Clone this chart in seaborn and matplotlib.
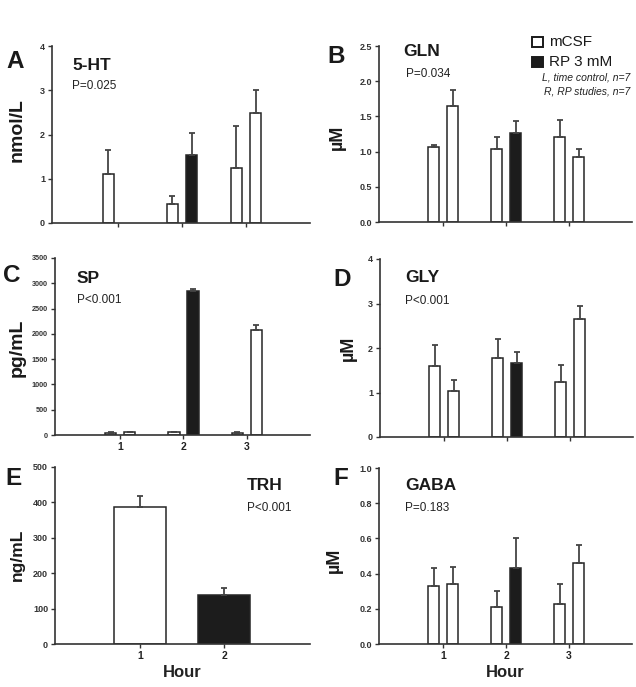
import numpy as np
import pandas as pd
import matplotlib
matplotlib.use("Agg")
import matplotlib.pyplot as plt
import seaborn as sns
from matplotlib.patches import Rectangle

# ---------------- data ----------------
hours = [1, 2, 3]
sides = ["L", "R"]
cond_left = ["mCSF", "mCSF", "mCSF"]
cond_right = ["mCSF", "RP", "mCSF"]

a_left = [1.10, 0.44, 1.24]
a_left_err = [0.56, 0.16, 0.95]
a_right = [np.nan, 1.54, 2.49]
a_right_err = [np.nan, 0.49, 0.51]

b_left = [1.06, 1.03, 1.21]
b_left_err = [0.04, 0.18, 0.24]
b_right = [1.65, 1.27, 0.93]
b_right_err = [0.22, 0.17, 0.11]

c_left = [45, 55, 45]
c_left_err = [12, 12, 12]
c_right = [50, 2840, 2080]
c_right_err = [12, 50, 95]

d_left = [1.60, 1.78, 1.23]
d_left_err = [0.47, 0.42, 0.38]
d_right = [1.04, 1.66, 2.65]
d_right_err = [0.24, 0.25, 0.30]

e_hours = [1, 2]
e_values = [386, 139]
e_err = [31, 20]
e_cond = ["mCSF", "RP"]

f_left = [0.33, 0.21, 0.23]
f_left_err = [0.10, 0.09, 0.11]
f_right = [0.34, 0.43, 0.46]
f_right_err = [0.10, 0.17, 0.105]

colors = {"mCSF": "white", "RP": "#1c1c1c"}
W, H = 636, 687

sns.set_theme(style="ticks")
plt.rcParams["font.family"] = ["Liberation Sans", "DejaVu Sans"]

fig = plt.figure(figsize=(W / 100, H / 100), dpi=100)


def add_ax(x0, y0, x1, y1):
    return fig.add_axes([x0 / W, 1 - y1 / H, (x1 - x0) / W, (y1 - y0) / H])


def style_ax(ax, ylim, yticks, fmt, ytick_fs=6.5, xlabels=None, xlim=None):
    ax.set_ylim(*ylim)
    ax.set_yticks(yticks)
    ax.set_yticklabels([fmt.format(t) for t in yticks], fontsize=ytick_fs,
                       fontweight="bold", color="#333333")
    if xlim is not None:
        ax.set_xlim(*xlim)
    if xlabels is None:
        ax.tick_params(axis="x", labelbottom=False)
    else:
        ax.set_xticklabels(xlabels, fontsize=7.5, fontweight="bold", color="#222222")
    ax.set_xlabel("")
    ax.set_ylabel("")
    sns.despine(ax=ax)
    for s in ["left", "bottom"]:
        ax.spines[s].set_color("#333333")
        ax.spines[s].set_linewidth(1.2)
    ax.tick_params(axis="both", direction="out", length=3, width=1, color="#333333", pad=2)
    ax.set_facecolor("white")


def paired_panel(ax, left, left_err, right, right_err):
    df = pd.DataFrame({
        "hour": hours * 2,
        "side": ["L"] * 3 + ["R"] * 3,
        "value": list(left) + list(right),
        "err": list(left_err) + list(right_err),
        "cond": cond_left + cond_right,
    })
    plot_df = df.assign(value=df["value"].fillna(0))
    sns.barplot(data=plot_df, x="hour", y="value", hue="side", order=hours,
                hue_order=sides, palette={"L": "white", "R": "white"},
                width=0.6, gap=0.4, errorbar=None, edgecolor="#262626",
                linewidth=1.1, legend=False, ax=ax)
    for bar in ax.patches:
        cx = bar.get_x() + bar.get_width() / 2
        idx = int(round(cx))
        side = "L" if cx < idx else "R"
        row = df[(df.hour == hours[idx]) & (df.side == side)].iloc[0]
        if np.isnan(row.value):
            bar.set_visible(False)
            continue
        bar.set_facecolor(colors[row.cond])
        ax.errorbar(cx, row.value, yerr=[[0], [row.err]], fmt="none",
                    ecolor="#444444", elinewidth=1.3, capsize=2.3, capthick=1.3,
                    zorder=1)


def ftext(x, y, s, **kw):
    fig.text(x / W, 1 - y / H, s, **kw)


# A
axA = add_ax(52, 46, 310, 223)
paired_panel(axA, a_left, a_left_err, a_right, a_right_err)
style_ax(axA, (0, 4), [0, 1, 2, 3, 4], "{:d}", xlim=(-1.03, 3.0))

# B
axB = add_ax(379, 46, 632, 222)
paired_panel(axB, b_left, b_left_err, b_right, b_right_err)
style_ax(axB, (0, 2.5), [0, 0.5, 1.0, 1.5, 2.0, 2.5], "{:.1f}", xlim=(-1.02, 3.0))

# C
axC = add_ax(55, 258, 310, 435)
paired_panel(axC, c_left, c_left_err, c_right, c_right_err)
style_ax(axC, (0, 3500), list(range(0, 3501, 500)), "{:d}", ytick_fs=5.2,
         xlabels=[str(h) for h in hours], xlim=(-1.03, 3.0))

# D
axD = add_ax(380, 259, 633, 437)
paired_panel(axD, d_left, d_left_err, d_right, d_right_err)
style_ax(axD, (0, 4), [0, 1, 2, 3, 4], "{:d}", xlim=(-1.02, 3.0))

# E
axE = add_ax(55, 467, 310, 644)
df_e = pd.DataFrame({"hour": e_hours, "value": e_values, "err": e_err, "cond": e_cond})
sns.barplot(data=df_e, x="hour", y="value", hue="cond", dodge=False,
            palette=colors, width=0.61, errorbar=None, edgecolor="#262626",
            linewidth=1.1, legend=False, ax=axE)
for bar in axE.patches:
    if bar.get_height() == 0:
        continue
    cx = bar.get_x() + bar.get_width() / 2
    idx = int(round(cx))
    row = df_e.iloc[idx]
    axE.errorbar(cx, row.value, yerr=[[0], [row.err]], fmt="none",
                 ecolor="#444444", elinewidth=1.3, capsize=2.3, capthick=1.3, zorder=1)
style_ax(axE, (0, 500), [0, 100, 200, 300, 400, 500], "{:d}",
         xlabels=[str(h) for h in e_hours], xlim=(-1.01, 2.02))
axE.set_xlabel("Hour", fontsize=12, fontweight="bold", color="#222222", labelpad=3)

# F
axF = add_ax(379, 468, 632, 644)
paired_panel(axF, f_left, f_left_err, f_right, f_right_err)
style_ax(axF, (0, 1.0), [0, 0.2, 0.4, 0.6, 0.8, 1.0], "{:.1f}",
         xlabels=[str(h) for h in hours], xlim=(-1.02, 3.0))
axF.set_xlabel("Hour", fontsize=12, fontweight="bold", color="#222222", labelpad=3)

# panel letters
for (x, y, s) in [(6, 67.5, "A"), (327, 63, "B"), (3, 282, "C"),
                  (333, 286, "D"), (5, 485, "E"), (333, 485, "F")]:
    ftext(x, y, s, fontsize=17.5, fontweight="bold", color="#1a1a1a", va="baseline")

# titles and P values
for (x, y, s) in [(72, 65, "5-HT"), (403, 52, "GLN"), (77, 279, "SP"),
                  (405, 278, "GLY"), (247, 485, "TRH"), (405, 485, "GABA")]:
    ftext(x, y, s, fontsize=12.5, fontweight="bold", color="#1a1a1a", va="center")
for (x, y, s) in [(72, 86, "P=0.025"), (406, 74, "P=0.034"), (77, 300, "P<0.001"),
                  (405, 301, "P<0.001"), (247, 508, "P<0.001"), (405, 508, "P=0.183")]:
    ftext(x, y, s, fontsize=8.5, color="#222222", va="center")

# y labels
for (x, y, s, fs) in [(17, 130, "nmol/L", 14), (337, 137, "µM", 13),
                      (17, 348, "pg/mL", 14), (348, 348, "µM", 13),
                      (17, 555, "ng/mL", 12.5), (334, 560, "µM", 13)]:
    ftext(x, y, s, fontsize=fs, fontweight="bold", color="#1a1a1a",
          rotation=90, ha="center", va="center")

# legend
for (y0, fc, label) in [(37, "white", "mCSF"), (56.5, "#1c1c1c", "RP 3 mM")]:
    fig.add_artist(Rectangle((531.5 / W, 1 - (y0 + 10) / H), 11 / W, 10 / H,
                             transform=fig.transFigure, facecolor=fc,
                             edgecolor="#1a1a1a", linewidth=1.4))
    ftext(549, y0 + 5, label, fontsize=11, color="#1a1a1a", va="center")
ftext(630, 78, "L, time control, n=7", fontsize=7.5, style="italic",
      color="#222222", ha="right", va="center")
ftext(630, 92, "R, RP studies, n=7", fontsize=7.5, style="italic",
      color="#222222", ha="right", va="center")

fig.savefig("out.png", dpi=100, facecolor="white")
